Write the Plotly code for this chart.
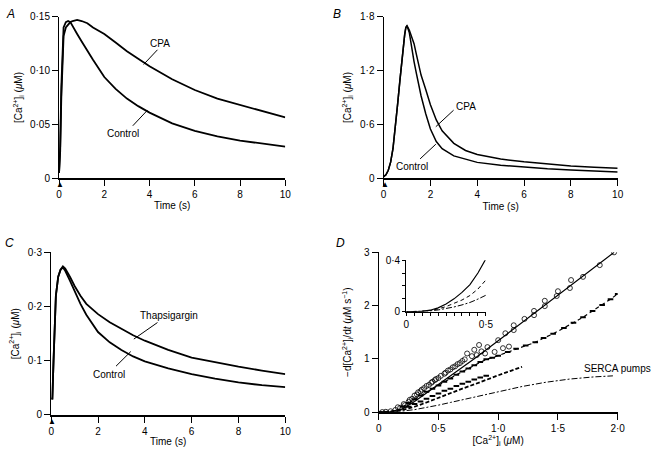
import plotly.graph_objects as go

# ---------------- Panel A ----------------
tA = [0, 0.05, 0.1, 0.15, 0.2, 0.3, 0.4, 0.5, 0.6, 0.8, 1.0, 1.25, 1.5, 2, 2.5, 3, 3.5, 4, 5, 6, 7, 8, 9, 10]
ctrlA = [0.005, 0.03, 0.085, 0.125, 0.14, 0.145, 0.146, 0.145, 0.141, 0.134, 0.127, 0.118, 0.110, 0.094,
         0.083, 0.074, 0.067, 0.061, 0.051, 0.044, 0.039, 0.035, 0.032, 0.0295]
cpaA = [0.005, 0.025, 0.075, 0.115, 0.132, 0.14, 0.143, 0.145, 0.146, 0.147, 0.146, 0.144, 0.140, 0.134,
        0.126, 0.118, 0.111, 0.104, 0.092, 0.082, 0.074, 0.068, 0.062, 0.0565]

# ---------------- Panel B ----------------
tB = [0, 0.1, 0.2, 0.3, 0.4, 0.5, 0.6, 0.7, 0.8, 0.9, 0.95, 1.0, 1.1, 1.2, 1.3, 1.4, 1.5, 1.6, 1.8, 2.0,
      2.25, 2.5, 3, 3.5, 4, 5, 6, 7, 8, 9, 10]
ctrlB = [0.02, 0.04, 0.09, 0.18, 0.33, 0.55, 0.83, 1.1, 1.38, 1.6, 1.68, 1.70, 1.62, 1.45, 1.3, 1.17, 1.04,
         0.92, 0.72, 0.55, 0.41, 0.33, 0.25, 0.21, 0.178, 0.145, 0.123, 0.107, 0.094, 0.082, 0.072]
cpaB = [0.02, 0.04, 0.09, 0.18, 0.33, 0.55, 0.83, 1.1, 1.38, 1.6, 1.68, 1.70, 1.65, 1.58, 1.50, 1.38, 1.26,
        1.15, 0.99, 0.82, 0.65, 0.53, 0.39, 0.31, 0.265, 0.215, 0.184, 0.158, 0.137, 0.123, 0.112]

# ---------------- Panel C ----------------
tC = [0, 0.05, 0.1, 0.15, 0.2, 0.3, 0.4, 0.5, 0.6, 0.8, 1.0, 1.25, 1.5, 2, 2.5, 3, 3.5, 4, 5, 6, 7, 8, 9, 10]
ctrlC = [0.03, 0.03, 0.1, 0.18, 0.22, 0.255, 0.268, 0.272, 0.266, 0.248, 0.228, 0.205, 0.185, 0.153,
         0.134, 0.12, 0.108, 0.099, 0.086, 0.0755, 0.067, 0.060, 0.055, 0.0515]
thapC = [0.03, 0.03, 0.1, 0.18, 0.22, 0.255, 0.268, 0.274, 0.27, 0.255, 0.238, 0.22, 0.205, 0.186,
         0.171, 0.159, 0.147, 0.137, 0.12, 0.106, 0.097, 0.089, 0.082, 0.0755]

# ---------------- Panel D (main) ----------------
ctrl_fit_c = [0, 0.1, 0.2, 0.3, 0.4, 0.5, 0.6, 0.8, 1.0, 1.2, 1.4, 1.6, 1.8, 1.97]
ctrl_fit_v = [0, 0.01, 0.06, 0.2, 0.36, 0.52, 0.68, 1.0, 1.34, 1.68, 2.02, 2.36, 2.70, 3.0]
cpa_fit_c = [0, 0.1, 0.2, 0.3, 0.4, 0.5, 0.6, 0.7, 0.8, 0.9, 1.0, 1.1, 1.2]
cpa_fit_v = [0, 0.01, 0.04, 0.1, 0.18, 0.27, 0.36, 0.44, 0.52, 0.61, 0.69, 0.77, 0.85]
serca_c = [0, 0.1, 0.2, 0.3, 0.4, 0.5, 0.6, 0.8, 1.0, 1.2, 1.4, 1.6, 1.8, 1.96]
serca_v = [0, 0.005, 0.02, 0.045, 0.085, 0.13, 0.18, 0.28, 0.38, 0.48, 0.56, 0.62, 0.66, 0.68]

ctrl_pts_c = [1.97, 1.85, 1.71, 1.61, 1.60, 1.50, 1.49, 1.39, 1.39, 1.30, 1.30, 1.22, 1.13, 1.13, 1.06, 1.00,
              1.09, 1.04, 0.97, 0.91, 0.86, 0.84, 0.80, 0.78, 0.74, 0.72, 0.68, 0.64, 0.60, 0.56, 0.52,
              0.48, 0.45, 0.42, 0.38, 0.35, 0.32, 0.28, 0.25, 0.22, 0.18, 0.14, 0.10, 0.06, 0.03,
              0.70, 0.66, 0.62, 0.58, 0.55, 0.50, 0.47, 0.44, 0.40, 0.36, 0.33, 0.30, 0.26, 0.21, 0.16,
              0.89, 0.82]
ctrl_pts_v = [3.0, 2.76, 2.54, 2.48, 2.33, 2.27, 2.18, 2.09, 1.99, 1.90, 1.82, 1.75, 1.63, 1.54, 1.48, 1.35,
              1.23, 1.20, 1.13, 1.22, 1.14, 1.26, 1.17, 1.05, 1.10, 0.99, 0.92, 0.86, 0.80, 0.74, 0.68,
              0.62, 0.57, 0.51, 0.45, 0.39, 0.33, 0.25, 0.19, 0.13, 0.08, 0.04, 0.015, 0.005, 0.0,
              0.96, 0.9, 0.84, 0.78, 0.72, 0.64, 0.6, 0.55, 0.49, 0.42, 0.37, 0.31, 0.23, 0.15, 0.09,
              1.1, 1.07]
cpa_pts_c = [0.2, 0.25, 0.3, 0.35, 0.4, 0.45, 0.5, 0.55, 0.6, 0.65, 0.7, 0.75, 0.8, 0.85, 0.9, 0.95, 1.0,
             1.08, 1.15, 1.23, 1.31, 1.38, 1.46, 1.55, 1.63, 1.71, 1.79, 1.87, 1.94, 2.0]
cpa_pts_v = [0.1, 0.17, 0.24, 0.31, 0.38, 0.44, 0.5, 0.57, 0.63, 0.7, 0.76, 0.82, 0.88, 0.94, 0.99, 1.02,
             1.06, 1.13, 1.19, 1.25, 1.31, 1.39, 1.47, 1.58, 1.68, 1.78, 1.9, 2.01, 2.12, 2.22]
cpa_low_c = [0.25, 0.3, 0.35, 0.4, 0.45, 0.5, 0.55, 0.6, 0.65, 0.7, 0.75, 0.8, 0.85, 0.9]
cpa_low_v = [0.1, 0.15, 0.2, 0.25, 0.3, 0.35, 0.4, 0.44, 0.49, 0.53, 0.57, 0.61, 0.65, 0.68]

# ---------------- Inset (0-0.5 µM) ----------------
in_c = [0, 0.05, 0.1, 0.15, 0.2, 0.25, 0.3, 0.35, 0.4, 0.45, 0.5]
in_ctrl = [0, 0.001, 0.004, 0.012, 0.03, 0.06, 0.10, 0.15, 0.21, 0.30, 0.41]
in_cpa = [0, 0.001, 0.004, 0.010, 0.022, 0.040, 0.063, 0.091, 0.126, 0.176, 0.246]
in_serca = [0, 0.001, 0.003, 0.007, 0.014, 0.024, 0.037, 0.053, 0.072, 0.098, 0.128]

# tick labels
A_yticks = [0, 0.05, 0.10, 0.15]; A_ytext = ["0", "0·05", "0·10", "0·15"]
B_yticks = [0, 0.6, 1.2, 1.8]; B_ytext = ["0", "0·6", "1·2", "1·8"]
C_yticks = [0, 0.1, 0.2, 0.3]; C_ytext = ["0", "0·1", "0·2", "0·3"]
D_yticks = [0, 1, 2, 3]; D_ytext = ["0", "1", "2", "3"]
D_xticks = [0, 0.5, 1.0, 1.5, 2.0]; D_xtext = ["0", "0·5", "1·0", "1·5", "2·0"]
T_ticks = [0, 2, 4, 6, 8, 10]; T_text = ["0", "2", "4", "6", "8", "10"]
I_xticks = [0, 0.5]; I_xtext = ["0", "0·5"]
I_xminor = [0.05, 0.1, 0.15, 0.2, 0.25, 0.3, 0.35, 0.4, 0.45]
I_yticks = [0, 0.4]; I_ytext = ["0", "0·4"]
I_yminor = [0.1, 0.2, 0.3]

W, H = 666, 457
FONT = "Liberation Sans, Arial, sans-serif"

def px(x0, x1):
    return [x0 / W, x1 / W]

def py(y_bottom, y_top):
    return [1 - y_bottom / H, 1 - y_top / H]

ca_title = "[Ca<sup>2+</sup>]<sub>i</sub> (<i>μ</i>M)"

def ax(domain, rng, tv, tt, anchor, title=None, standoff=None, ticklen=6, minor=None, lw=1.2):
    d = dict(domain=domain, range=rng, tickvals=tv, ticktext=tt, anchor=anchor,
             showline=True, linecolor="black", linewidth=lw, ticks="outside", ticklen=ticklen,
             tickcolor="black", tickwidth=1, showgrid=False, zeroline=False, tickangle=0,
             tickfont=dict(size=10, color="black", family=FONT), fixedrange=True)
    if minor is not None:
        d["minor"] = dict(tickvals=minor, ticks="outside", ticklen=ticklen, tickcolor="black",
                          tickwidth=1, showgrid=False)
    if title:
        d["title"] = dict(text=title, font=dict(size=10, color="black", family=FONT))
        if standoff is not None:
            d["title"]["standoff"] = standoff
    return d

fig = go.Figure()
LW = 1.8
blk = "black"

# Panel A
fig.add_trace(go.Scatter(x=tA, y=cpaA, mode="lines", line=dict(color=blk, width=LW), xaxis="x", yaxis="y"))
fig.add_trace(go.Scatter(x=tA, y=ctrlA, mode="lines", line=dict(color=blk, width=LW), xaxis="x", yaxis="y"))
# Panel B
fig.add_trace(go.Scatter(x=tB, y=cpaB, mode="lines", line=dict(color=blk, width=1.5), xaxis="x2", yaxis="y2"))
fig.add_trace(go.Scatter(x=tB, y=ctrlB, mode="lines", line=dict(color=blk, width=1.5), xaxis="x2", yaxis="y2"))
# Panel C
fig.add_trace(go.Scatter(x=tC, y=thapC, mode="lines", line=dict(color=blk, width=LW), xaxis="x3", yaxis="y3"))
fig.add_trace(go.Scatter(x=tC, y=ctrlC, mode="lines", line=dict(color=blk, width=LW), xaxis="x3", yaxis="y3"))
# Panel D
fig.add_trace(go.Scatter(x=cpa_low_c, y=cpa_low_v, mode="markers",
                         marker=dict(symbol="line-ew", size=4, color=blk, line=dict(width=2, color=blk)),
                         xaxis="x4", yaxis="y4"))
fig.add_trace(go.Scatter(x=ctrl_fit_c, y=ctrl_fit_v, mode="lines", line=dict(color=blk, width=1.2),
                         xaxis="x4", yaxis="y4"))
fig.add_trace(go.Scatter(x=ctrl_pts_c, y=ctrl_pts_v, mode="markers",
                         marker=dict(symbol="circle-open", size=5, color=blk, line=dict(width=0.8)),
                         xaxis="x4", yaxis="y4"))
fig.add_trace(go.Scatter(x=cpa_pts_c, y=cpa_pts_v, mode="lines+markers",
                         line=dict(color=blk, width=1.2, dash="4px,3px"),
                         marker=dict(symbol="line-ew", size=4, color=blk, line=dict(width=2, color=blk)),
                         xaxis="x4", yaxis="y4"))
fig.add_trace(go.Scatter(x=cpa_fit_c, y=cpa_fit_v, mode="lines", line=dict(color=blk, width=1.8, dash="4px,2px"),
                         xaxis="x4", yaxis="y4"))
fig.add_trace(go.Scatter(x=serca_c, y=serca_v, mode="lines", line=dict(color=blk, width=1, dash="2px,2px,6px,2px"),
                         xaxis="x4", yaxis="y4"))
# Inset
fig.add_trace(go.Scatter(x=in_c, y=in_ctrl, mode="lines", line=dict(color=blk, width=1.2),
                         xaxis="x5", yaxis="y5"))
fig.add_trace(go.Scatter(x=in_c, y=in_cpa, mode="lines", line=dict(color=blk, width=1, dash="4px,3px"),
                         xaxis="x5", yaxis="y5"))
fig.add_trace(go.Scatter(x=in_c, y=in_serca, mode="lines", line=dict(color=blk, width=1, dash="2px,2px,6px,2px"),
                         xaxis="x5", yaxis="y5"))

time_title = "Time (s)"
layout = dict(
    width=W, height=H, margin=dict(l=0, r=0, t=0, b=0), showlegend=False,
    paper_bgcolor="white", plot_bgcolor="white",
    font=dict(family=FONT, size=10, color="black"),
    xaxis=ax(px(57, 287), [0, 10], T_ticks, T_text, "y", time_title, 3, lw=1.8),
    yaxis=ax(py(177, 11), [0, 0.15], A_yticks, A_ytext, "x", ca_title, 5),
    xaxis2=ax(px(387, 625), [0, 10], T_ticks, T_text, "y2", time_title, 4, lw=1.5),
    yaxis2=ax(py(177, 11), [0, 1.8], B_yticks, B_ytext, "x2", ca_title, 6),
    xaxis3=ax(px(49, 287), [0, 10], T_ticks, T_text, "y3", time_title, 2, lw=1.5),
    yaxis3=ax(py(420, 253), [0, 0.3], C_yticks, C_ytext, "x3", ca_title, 6),
    xaxis4=ax(px(382, 625), [0, 2], D_xticks, D_xtext, "y4", ca_title, 2, lw=1.5),
    yaxis4=ax(py(417, 253), [0, 3], D_yticks, D_ytext, "x4",
              "−d[Ca<sup>2+</sup>]<sub>i</sub>/d<i>t</i> (<i>μ</i>M s<sup>−1</sup>)", 10),
    xaxis5=ax(px(410, 491), [0, 0.5], I_xticks, I_xtext, "y5", ticklen=3, minor=I_xminor),
    yaxis5=ax(py(314, 261), [0, 0.4], I_yticks, I_ytext, "x5", ticklen=3, minor=I_yminor),
)
fig.update_layout(**layout)

ann = []
shapes = []
def label(text, x, y, xr, yr, xanchor="center", size=10):
    ann.append(dict(text=text, x=x, y=y, xref=xr, yref=yr, showarrow=False, xanchor=xanchor,
                    yanchor="middle", font=dict(size=size, color="black", family=FONT)))

def pointer(x0, y0, x1, y1, xr, yr):
    shapes.append(dict(type="line", x0=x0, y0=y0, x1=x1, y1=y1, xref=xr, yref=yr,
                       line=dict(color="black", width=1)))

def stim(xr, yr):
    ann.append(dict(text="▲", x=0, y=0, xref=xr, yref=yr, showarrow=False, yanchor="top",
                    xanchor="center", yshift=0, xshift=1, font=dict(size=8, color="black")))

# panel letters
for letter, x, y in [("A", 8, 8), ("B", 340, 8), ("C", 7, 243), ("D", 343, 243)]:
    ann.append(dict(text=f"<i>{letter}</i>", x=x / W, y=1 - y / H, xref="paper", yref="paper",
                    showarrow=False, xanchor="center", yanchor="middle",
                    font=dict(size=12, color="black", family=FONT)))

# Panel A labels
label("CPA", 4.48, 0.1256, "x", "y")
pointer(4.35, 0.1193, 3.74, 0.1057, "x", "y")
label("Control", 2.83, 0.0416, "x", "y")
pointer(3.26, 0.0488, 3.91, 0.0633, "x", "y")
stim("x", "y")
# Panel B labels
label("CPA", 3.53, 0.80, "x2", "y2")
pointer(2.99, 0.759, 2.23, 0.575, "x2", "y2")
label("Control", 1.22, 0.13, "x2", "y2")
pointer(1.56, 0.217, 2.23, 0.38, "x2", "y2")
stim("x2", "y2")
# Panel C labels
label("Thapsigargin", 5.04, 0.183, "x3", "y3")
pointer(4.54, 0.1705, 3.53, 0.14, "x3", "y3")
label("Control", 2.48, 0.075, "x3", "y3")
pointer(2.77, 0.090, 3.4, 0.117, "x3", "y3")
stim("x3", "y3")
# Panel D labels
label("Control", 2.025, 3.0, "x4", "y4", xanchor="left")
label("CPA", 2.025, 2.21, "x4", "y4", xanchor="left")
label("SERCA pumps", 1.70, 0.82, "x4", "y4", xanchor="left")

fig.update_layout(annotations=ann, shapes=shapes)
fig.write_html("out.html", config={"displayModeBar": False},
               post_script="document.body.style.margin='0';")
